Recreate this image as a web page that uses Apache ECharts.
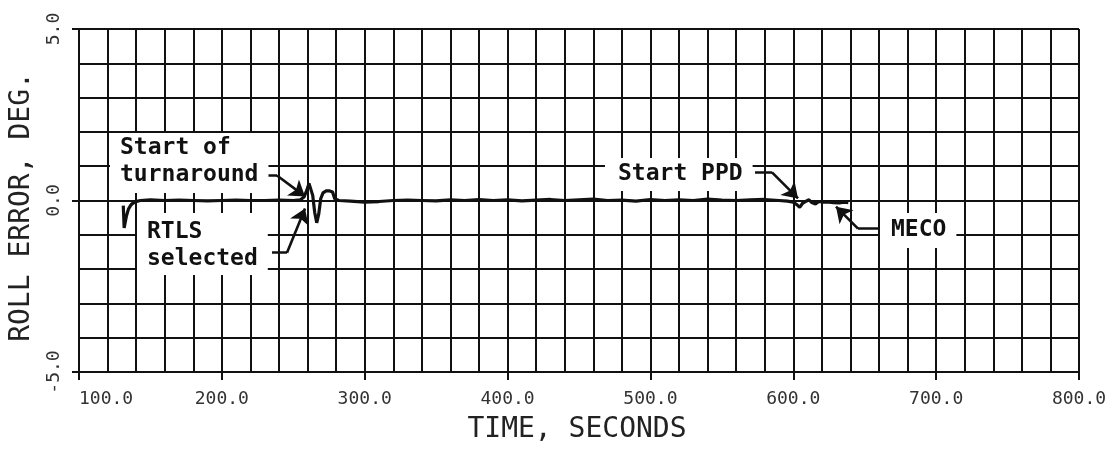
<!DOCTYPE html>
<html>
<head>
<meta charset="utf-8">
<script src="https://cdn.jsdelivr.net/npm/echarts@6/dist/echarts.min.js"></script>
<style>
html,body{margin:0;padding:0;background:#fff;}
#chart{width:1116px;height:451px;}
</style>
</head>
<body>
<div id="chart"></div>
<script>
// ---- Data ----
const timeSec = [131, 131.6, 132.2, 133.2, 134.6, 136.5, 139, 143, 150, 160, 170, 180, 190, 200, 210, 220, 230, 240, 250, 255,
  257.5, 259.5, 261, 262.4, 263.6, 265, 266.4, 267.8, 269.2, 270.8, 273, 275.5, 277.5, 279, 282, 290,
  300, 310, 320, 330, 340, 350, 360, 370, 380, 390,
  400, 410, 420, 430, 440, 450, 460, 470, 480, 490,
  500, 510, 520, 530, 540, 550, 560, 570, 580, 590,
  596, 600, 602.5, 604.5, 606.5, 609, 611, 613, 615.5, 618, 621, 624, 628, 632, 636, 638.5];
const rollError = [-0.15, -0.8, -0.75, -0.45, -0.25, -0.12, -0.04, 0.0, 0.02, 0.0, 0.01, 0.0, -0.01, 0.0, 0.01, 0.0, 0.0, 0.01, 0.0, 0.02,
  0.1, 0.3, 0.5, 0.55, 0.15, -0.35, -0.65, -0.4, 0.05, 0.22, 0.28, 0.28, 0.25, 0.05, 0.0, -0.02,
  -0.05, -0.03, 0.0, 0.01, 0.0, -0.01, 0.02, 0.0, 0.03, 0.0,
  0.02, -0.01, 0.01, 0.03, 0.0, 0.02, 0.04, 0.0, 0.01, -0.02,
  0.03, 0.0, 0.02, 0.0, 0.04, 0.01, 0.0, 0.02, 0.03, 0.0,
  -0.02, -0.05, -0.12, -0.2, -0.08, -0.02, 0.02, -0.06, -0.1, -0.03, -0.05, -0.04, -0.06, -0.07, -0.05, -0.06];

const xTickLabels = ['100.0', '200.0', '300.0', '400.0', '500.0', '600.0', '700.0', '800.0'];
const yTickLabels = ['-5.0', '0.0', '5.0'];

// annotation leaders (data coordinates: time, roll error): [start of dash, bend, arrow tip]
const turnaroundLeader = [[232.3, 0.73], [238.6, 0.73], [258.2, 0.12]];
const rtlsLeader = [[235.1, -1.52], [245.6, -1.52], [258.2, -0.23]];
const ppdLeader = [[573.2, 0.82], [585.1, 0.82], [603.3, 0.06]];
const mecoLeader = [[660.7, -0.82], [645.3, -0.82], [629.9, -0.18]];

const annotationTexts = ['Start of\nturnaround', 'RTLS\nselected', 'Start PPD', 'MECO'];

// ---- Chart ----
const chart = echarts.init(document.getElementById('chart'), null, {renderer: 'canvas'});
const ink = '#111';
const gridLine = {show: true, lineStyle: {color: ink, width: 2, type: 'solid'}};
const annFont = 'bold 23px "DejaVu Sans Mono", monospace';
const leaders = [turnaroundLeader, rtlsLeader, ppdLeader, mecoLeader];

function annText(text, x, y, pad) {
  return {
    type: 'text', x: x, y: y, z: 10,
    style: {
      text: text, font: annFont, fill: ink, lineHeight: 27,
      backgroundColor: '#fff', padding: pad
    }
  };
}

const option = {
  animation: false,
  backgroundColor: '#fff',
  grid: {left: 79, right: 37, top: 29, bottom: 79, containLabel: false, outerBoundsMode: 'none'},
  xAxis: {
    type: 'value', min: 100, max: 800, interval: 100,
    axisLine: {show: true, onZero: false, lineStyle: {color: ink, width: 2}},
    axisTick: {show: true, length: 8, lineStyle: {color: ink, width: 2}},
    splitLine: gridLine,
    minorTick: {show: false, splitNumber: 5},
    minorSplitLine: gridLine,
    axisLabel: {
      show: true, margin: 18, color: '#333',
      fontFamily: '"DejaVu Sans Mono", monospace', fontSize: 18,
      alignMinLabel: 'left',
      formatter: function (v) { return xTickLabels[Math.round((v - 100) / 100)]; }
    }
  },
  yAxis: {
    type: 'value', min: -5, max: 5, interval: 5,
    axisLine: {show: true, onZero: false, lineStyle: {color: ink, width: 2}},
    axisTick: {show: true, length: 7, lineStyle: {color: ink, width: 2}},
    splitLine: gridLine,
    minorTick: {show: false, splitNumber: 5},
    minorSplitLine: gridLine,
    axisLabel: {
      show: true, rotate: 90, margin: 16, color: '#333',
      fontFamily: '"DejaVu Sans Mono", monospace', fontSize: 18,
      formatter: function (v) { return yTickLabels[Math.round((v + 5) / 5)]; }
    }
  },
  graphic: [
    {
      type: 'text', x: 22, y: 207, rotation: Math.PI / 2, z: 10,
      style: {text: 'ROLL ERROR, DEG.', font: '28px "DejaVu Sans Mono", monospace', fill: '#222',
        align: 'center', verticalAlign: 'middle'}
    },
    {
      type: 'text', x: 577, y: 430, z: 10,
      style: {text: 'TIME, SECONDS', font: '28px "DejaVu Sans Mono", monospace', fill: '#222',
        align: 'center', verticalAlign: 'middle'}
    },
    annText(annotationTexts[0], 110, 133, [2, 10, 4, 10]),
    annText(annotationTexts[1], 137, 213, [6, 10, 2, 10]),
    annText(annotationTexts[2], 605, 158, [3, 10, 3, 13]),
    annText(annotationTexts[3], 880, 213, [4, 10, 4, 11])
  ],
  series: [
    {
      type: 'line', name: 'Roll error',
      data: timeSec.map((t, i) => [t, rollError[i]]),
      showSymbol: false, symbol: 'none', smooth: false,
      lineStyle: {color: ink, width: 3.2},
      z: 5
    },
    {
      // short horizontal dashes leaving the labels
      type: 'lines', coordinateSystem: 'cartesian2d', polyline: false,
      symbol: ['none', 'none'],
      lineStyle: {color: ink, width: 2.6, opacity: 1, curveness: 0},
      data: leaders.map(l => ({coords: [l[0], l[1]]})),
      z: 6
    },
    {
      // diagonal legs ending in arrowheads
      type: 'lines', coordinateSystem: 'cartesian2d', polyline: false,
      symbol: ['none', 'arrow'], symbolSize: [9, 15],
      lineStyle: {color: ink, width: 2.6, opacity: 1, curveness: 0},
      data: leaders.map(l => ({coords: [l[1], l[2]]})),
      z: 6
    }
  ]
};
chart.setOption(option);
</script>
</body>
</html>
